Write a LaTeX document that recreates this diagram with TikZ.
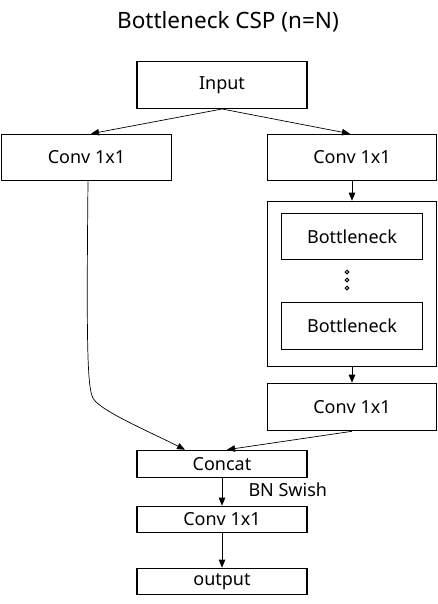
\documentclass[tikz,border=0pt]{standalone}
\usepackage{fontspec}
\setmainfont{Noto Sans}
\usetikzlibrary{arrows.meta}
\begin{document}
\begin{tikzpicture}[x=1pt,y=-1pt,
  box/.style={draw,line width=1.6pt,rectangle,inner sep=0pt,font=\fontsize{18}{20}\selectfont},
  conn/.style={line width=0.7pt,-{Triangle[length=8pt,width=6.5pt]}},
  lab/.style={font=\fontsize{18}{20}\selectfont}]
\useasboundingbox (0,0) rectangle (438,604);
\node[font=\fontsize{22.5}{26}\selectfont] (title) at (228,22) {Bottleneck CSP (n=N)};
\node[box,minimum width=170pt,minimum height=47pt] (inp) at (222,85) {Input};
\node[box,minimum width=170pt,minimum height=46pt] (lc) at (86.5,157.5) {Conv 1x1};
\node[box,minimum width=169pt,minimum height=46pt] (rc) at (352,157.5) {Conv 1x1};
\node[box,minimum width=169pt,minimum height=165pt] (cont) at (352,284) {};
\node[box,minimum width=141pt,minimum height=46pt] (b1) at (352,236.5) {Bottleneck};
\node[box,minimum width=141pt,minimum height=47pt] (b2) at (352,326) {Bottleneck};
\foreach \yy in {272,280,288} \draw[line width=1pt] (347,\yy) circle (1.8pt);
\node[box,minimum width=169pt,minimum height=47pt] (rc2) at (352,407) {Conv 1x1};
\node[box,minimum width=170pt,minimum height=27pt] (cat) at (222,464) {Concat};
\node[box,minimum width=170pt,minimum height=26pt] (cb) at (222,519.5) {Conv 1x1};
\node[box,minimum width=170pt,minimum height=26pt] (out) at (222,581.5) {output};
\node[lab,anchor=west] (bn) at (245,490) {BN Swish};
\coordinate (ins) at (222,109);
\draw[conn] (ins) -- (lc.north -| 91,0);
\draw[conn] (ins) -- (rc.north -| 350,0);
\draw[conn] (rc) -- (cont);
\draw[conn] (cont) -- (rc2);
\draw[conn] (lc.south -| 88,0) .. controls (86,380) and (88,395) .. (96,402) .. controls (110,415) and (150,432) .. (cat.north -| 185,0);
\draw[conn] (rc2.south -| 352,0) -- (cat.north -| 227,0);
\draw[conn] (cat) -- (cb);
\draw[conn] (cb) -- (out);
\end{tikzpicture}
\end{document}
